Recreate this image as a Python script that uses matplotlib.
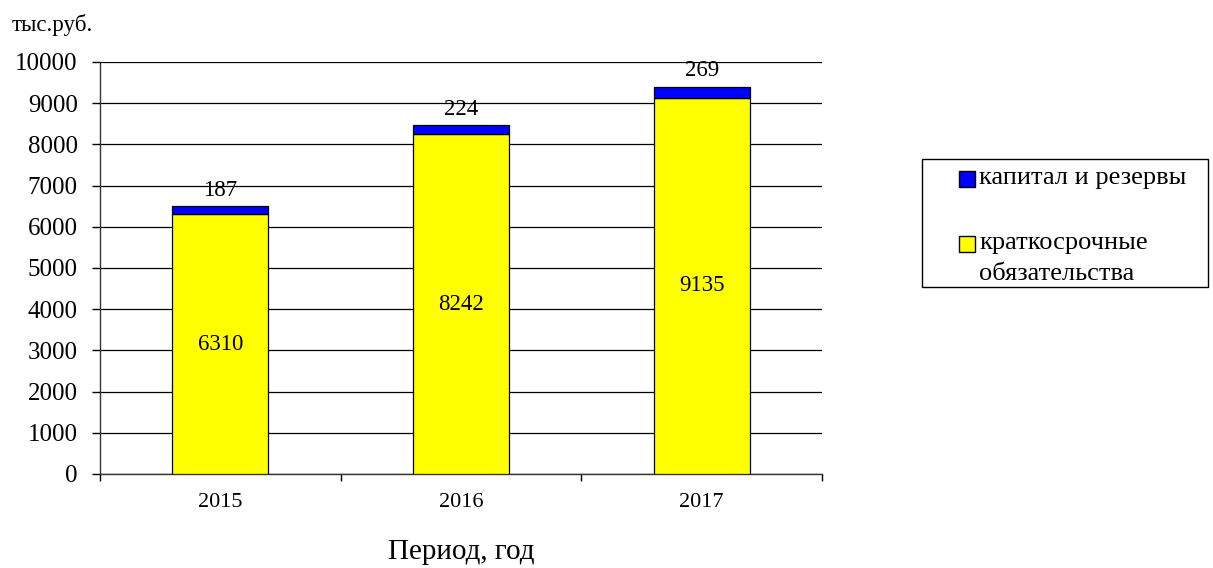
import matplotlib.pyplot as plt
import numpy as np
from matplotlib.patches import Rectangle

plt.rcParams['font.family'] = ['Liberation Serif', 'DejaVu Serif']

years = ['2015', '2016', '2017']
short_term = [6310, 8242, 9135]      # краткосрочные обязательства
capital = [187, 224, 269]            # капитал и резервы
series_names = ['капитал и резервы', 'краткосрочные\nобязательства']
series_colors = ['#0000ff', '#ffff00']

W, H = 1213, 568
fig = plt.figure(figsize=(W / 100, H / 100), dpi=100)
ax = fig.add_axes([100 / W, 1 - 474 / H, 722 / W, 412 / H])

x = np.arange(len(years))
w = 0.4
ax.bar(x, short_term, w, color=series_colors[1], edgecolor='black', linewidth=0.9, zorder=3)
ax.bar(x, capital, w, bottom=short_term, color=series_colors[0], edgecolor='black',
       linewidth=0.9, zorder=3)

for xi, s, c in zip(x, short_term, capital):
    ax.text(xi, s / 2, str(s), ha='center', va='center', fontsize=16.5, zorder=4)
    ax.text(xi, s + c + 380, str(c), ha='center', va='center', fontsize=16.5, zorder=4)

ax.set_xlim(-0.5, 2.5)
ax.set_ylim(0, 10000)
ax.set_yticks(np.arange(0, 10001, 1000))
ax.tick_params(axis='y', labelsize=18, direction='out', length=6, width=1, pad=10)
ax.yaxis.grid(True, color='black', linewidth=0.9, zorder=0)

# tick marks on the category boundaries, year labels between them
ax.set_xticks([-0.5, 0.5, 1.5, 2.5])
ax.set_xticklabels([])
ax.set_xticks(x, minor=True)
ax.set_xticklabels(years, minor=True, fontsize=16)
ax.tick_params(axis='x', which='major', direction='out', length=5, width=1)
ax.tick_params(axis='x', which='minor', length=0, pad=14)

for side in ['top', 'right']:
    ax.spines[side].set_visible(False)
for side in ['left', 'bottom']:
    ax.spines[side].set_linewidth(1)
    ax.spines[side].set_color('#333333')

ax.set_xlabel('Период, год', fontsize=21, labelpad=19)
fig.text(12 / W, 1 - 25 / H, 'тыс.руб.', fontsize=16.5, va='center')

# legend box drawn by hand
fig.add_artist(Rectangle((922 / W, 1 - 287 / H), 286 / W, 128 / H, transform=fig.transFigure,
                         fill=False, edgecolor='black', linewidth=1))
for name, col, yc in zip(series_names, series_colors, [179, 244]):
    fig.add_artist(Rectangle((959 / W, 1 - (yc + 8) / H), 16 / W, 16 / H,
                             transform=fig.transFigure, facecolor=col,
                             edgecolor='black', linewidth=1))
    fig.text(979 / W, 1 - (yc - 12) / H, name, fontsize=19, va='top', ha='left',
             linespacing=1.55)

fig.savefig('out.png', dpi=100)
